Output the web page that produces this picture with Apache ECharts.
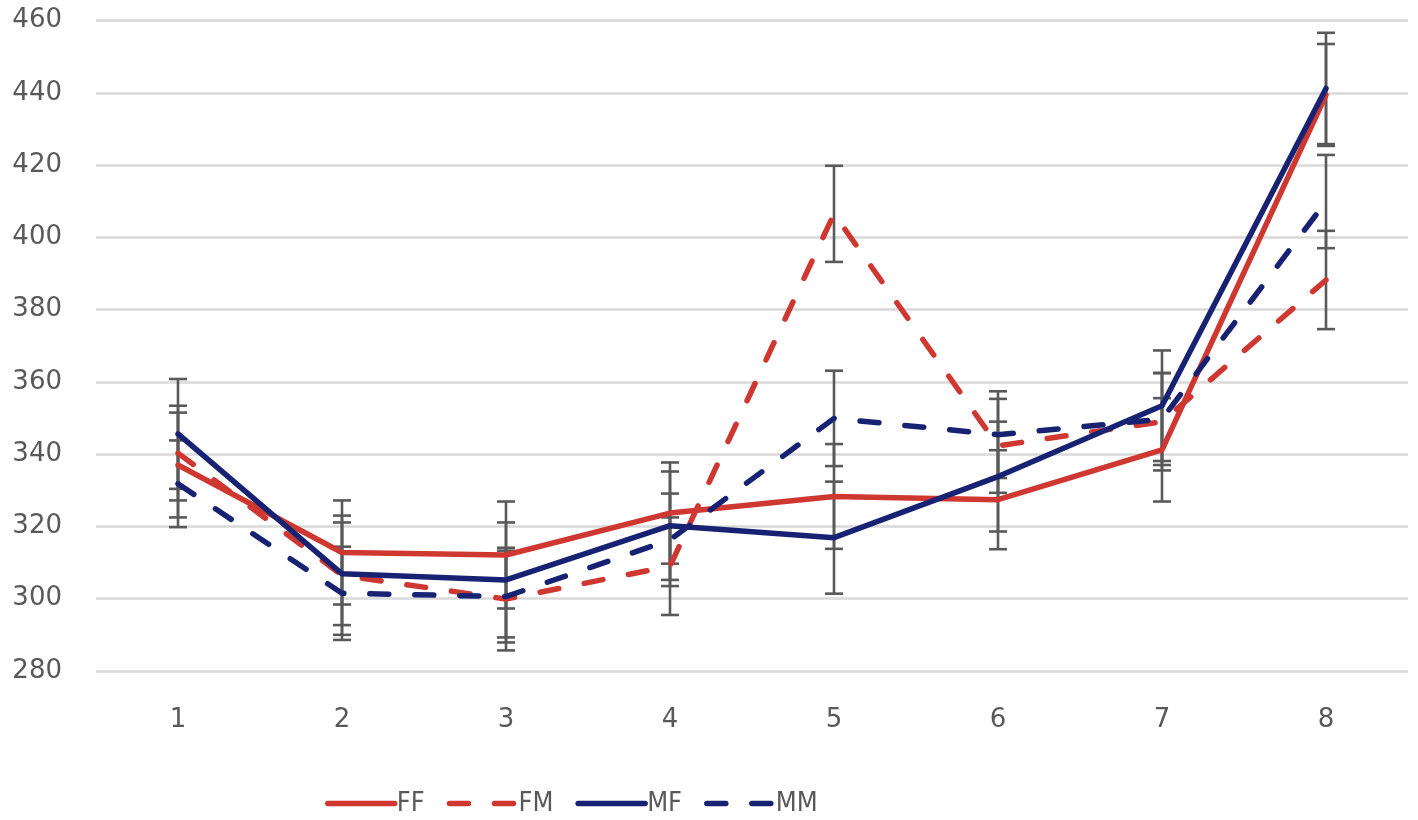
<!DOCTYPE html>
<html>
<head>
<meta charset="utf-8">
<script src="https://cdn.jsdelivr.net/npm/echarts@6/dist/echarts.min.js"></script>
<style>html,body{margin:0;padding:0;background:#fff}#c{width:1418px;height:820px}</style>
</head>
<body>
<div id="c"></div>
<script>
const categories = ['1','2','3','4','5','6','7','8'];
const seriesNames = ['FF','FM','MF','MM'];
const ffValues = [337, 312.8, 312.1, 323.7, 328.3, 327.4, 341.2, 439.4];
const fmValues = [340.3, 306.5, 299.9, 309, 406.5, 342.3, 349, 388.2];
const mfValues = [345.6, 306.9, 305.2, 320.2, 316.9, 333.8, 353.4, 441.2];
const mmValues = [331.8, 301.5, 300.6, 316.3, 349.9, 345.4, 349.7, 409.9];
const ffErr = [14.5, 14.4, 14.8, 14, 14.5, 13.7, 14.3, 14.1];
const fmErr = [13.1, 16.5, 14.2, 13.5, 13.3, 13, 13.5, 13.6];
const mfErr = [15.2, 14.2, 15.9, 15, 15.5, 15.2, 15.3, 15.4];
const mmErr = [12, 12.9, 12.7, 12.8, 13.2, 12, 12.7, 12.9];
const yTicks = [280, 300, 320, 340, 360, 380, 400, 420, 440, 460];

const RED = '#cf3731', NAVY = '#172372', GRAY = '#595959';
const defs = [
  {name:'FF', vals:ffValues, err:ffErr, color:RED, dash:'solid'},
  {name:'FM', vals:fmValues, err:fmErr, color:RED, dash:[19,26]},
  {name:'MF', vals:mfValues, err:mfErr, color:NAVY, dash:'solid'},
  {name:'MM', vals:mmValues, err:mmErr, color:NAVY, dash:[19,26]}
];

function errRender(params, api){
  const x = api.value(0);
  const lo = api.coord([x, api.value(1)]);
  const hi = api.coord([x, api.value(2)]);
  const w = 9;
  const st = {stroke: GRAY, lineWidth: 2.6};
  return {type:'group', children:[
    {type:'line', shape:{x1:lo[0], y1:lo[1], x2:hi[0], y2:hi[1]}, style:st},
    {type:'line', shape:{x1:lo[0]-w, y1:lo[1], x2:lo[0]+w, y2:lo[1]}, style:st},
    {type:'line', shape:{x1:hi[0]-w, y1:hi[1], x2:hi[0]+w, y2:hi[1]}, style:st}
  ]};
}

const series = [];
defs.forEach(d => {
  series.push({
    type:'custom', name:d.name+'_err', renderItem: errRender, z:1, silent:true,
    encode:{x:0, y:[1,2]},
    data: d.vals.map((v,i)=>[i, v-d.err[i], v+d.err[i]])
  });
});
defs.forEach(d => {
  series.push({
    type:'line', name:d.name, data:d.vals, symbol:'none', showSymbol:false, z:3,
    lineStyle:{color:d.color, width:5.5, type:d.dash, cap:'round', join:'round'},
    itemStyle:{color:d.color}
  });
});

const chart = echarts.init(document.getElementById('c'), null, {renderer:'canvas'});
chart.setOption({
  animation:false,
  backgroundColor:'#fff',
  grid:{left:96, right:10, top:20.5, bottom:149, containLabel:false},
  legend:{
    data: seriesNames, left:320, top:785, itemWidth:67, itemHeight:14, itemGap:22,
    itemStyle:{opacity:0},
    lineStyle:{width:5.5, cap:'round'},
    textStyle:{fontSize:27, color:GRAY, fontFamily:"'DejaVu Sans Condensed', 'Liberation Sans Narrow', sans-serif", padding:[0,0,0,-3]}
  },
  xAxis:{
    type:'category', data:categories, boundaryGap:true,
    axisLine:{show:false}, axisTick:{show:false},
    axisLabel:{fontSize:26, color:GRAY, fontFamily:"'DejaVu Sans', sans-serif", margin:36}
  },
  yAxis:{
    type:'value', min:yTicks[0], max:yTicks[yTicks.length-1], interval:20,
    axisLine:{show:false}, axisTick:{show:false},
    axisLabel:{fontSize:26, color:GRAY, fontFamily:"'DejaVu Sans', sans-serif", margin:34},
    splitLine:{lineStyle:{color:'#d9d9d9', width:2.5}}
  },
  series: series
});
</script>
</body>
</html>
